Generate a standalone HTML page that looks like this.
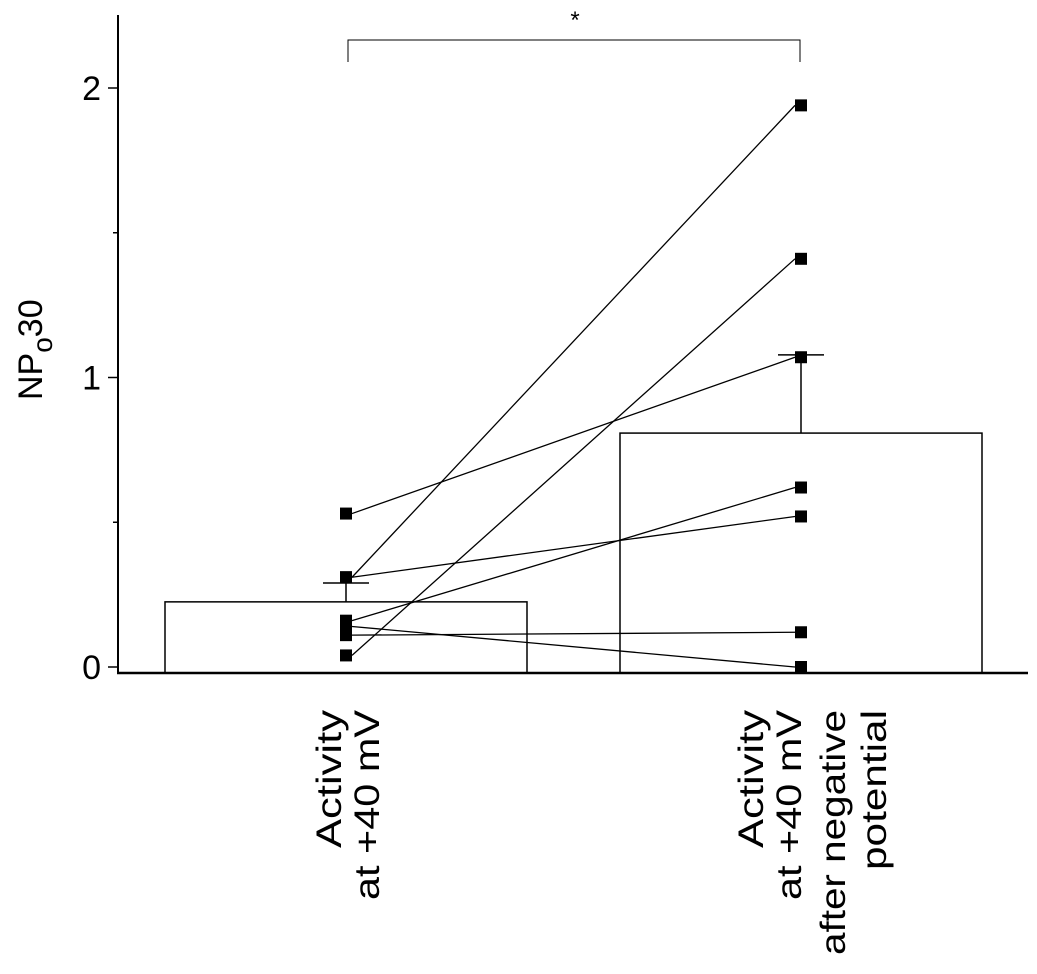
<!DOCTYPE html>
<html><head><meta charset="utf-8"><style>
html,body{margin:0;padding:0;background:#fff;}
svg{display:block;font-family:"Liberation Sans",sans-serif;}
</style></head><body>
<svg id="chart" width="1037" height="974" viewBox="0 0 1037 974" xmlns="http://www.w3.org/2000/svg">
<g id="bars"></g>
<g id="lines"></g>
<g id="marks"></g>
<g id="axes"></g>
<g>
<path d="M348,62 V40 H800 V62" fill="none" stroke="#000" stroke-width="1"/>
<text x="575" y="28" font-size="24" text-anchor="middle">*</text>
</g>
<text transform="translate(42,400) rotate(-90)" font-size="34">NP<tspan font-size="28" dy="10">o</tspan><tspan dy="-10">30</tspan></text>
<g font-size="35" text-anchor="end">
<text transform="translate(341,710) rotate(-90)" textLength="138" lengthAdjust="spacingAndGlyphs">Activity</text>
<text transform="translate(379,710) rotate(-90)" textLength="190" lengthAdjust="spacingAndGlyphs">at +40 mV</text>
</g>
<g font-size="35" text-anchor="end">
<text transform="translate(763,710) rotate(-90)" textLength="138" lengthAdjust="spacingAndGlyphs">Activity</text>
<text transform="translate(801,710) rotate(-90)" textLength="190" lengthAdjust="spacingAndGlyphs">at +40 mV</text>
<text transform="translate(845,710) rotate(-90)" textLength="245" lengthAdjust="spacingAndGlyphs">after negative</text>
<text transform="translate(886,710) rotate(-90)" textLength="160" lengthAdjust="spacingAndGlyphs">potential</text>
</g>
</svg>
<script>
const categories = ["before", "after"];
const barMeans = [0.225, 0.808];
const barErrors = [0.065, 0.27];
const beforeValues = [0.53, 0.31, 0.31, 0.04, 0.16, 0.14, 0.11];
const afterValues = [1.07, 1.94, 0.52, 1.41, 0.62, 0.0, 0.12];
const yTicks = [0, 1, 2];
const yMinorTicks = [0.5, 1.5];

const NS = "http://www.w3.org/2000/svg";
function y(v){ return 667 - v * 289.5; }
const catX = [346, 801];
const barLeft = [165, 620], barW = 362;
function mk(tag, attrs, parent){
  const e = document.createElementNS(NS, tag);
  for (const k in attrs) e.setAttribute(k, attrs[k]);
  parent.appendChild(e);
  return e;
}
const bars = document.getElementById('bars');
categories.forEach((c, i) => {
  const r = mk('rect', {x: barLeft[i], y: y(barMeans[i]), width: barW, height: 673 - y(barMeans[i]), fill: '#fff', stroke: '#000', 'stroke-width': 1.5}, bars);
  
  
  const e1 = mk('line', {x1: catX[i], x2: catX[i], y1: y(barMeans[i]), y2: y(barMeans[i] + barErrors[i]), stroke: '#000', 'stroke-width': 1.5}, bars);
  
  
  const e2 = mk('line', {x1: catX[i] - 23, x2: catX[i] + 23, y1: y(barMeans[i] + barErrors[i]), y2: y(barMeans[i] + barErrors[i]), stroke: '#000', 'stroke-width': 1.5}, bars);
  
  
});
const lines = document.getElementById('lines');
const marks = document.getElementById('marks');
beforeValues.forEach((b, i) => {
  const a = afterValues[i];
  const l = mk('line', {x1: catX[0] + 6, y1: y(b), x2: catX[1] - 6, y2: y(a), stroke: '#000', 'stroke-width': 1.3}, lines);
  
  
  [[catX[0], b], [catX[1], a]].forEach(([x, v], j) => {
    const m = mk('rect', {x: x - 6, y: y(v) - 6, width: 12, height: 12, fill: '#000'}, marks);
    
    
  });
});
const axes = document.getElementById('axes');
const ya = mk('line', {x1: 118, x2: 118, y1: 15, y2: 674, stroke: '#000', 'stroke-width': 2}, axes);


const xa = mk('line', {x1: 117, x2: 1028, y1: 673, y2: 673, stroke: '#000', 'stroke-width': 2.5}, axes);


yTicks.forEach(t => {
  const tk = mk('line', {x1: 108, x2: 118, y1: y(t), y2: y(t), stroke: '#000', 'stroke-width': 1.5}, axes);
  
  
  const tx = mk('text', {x: 101, y: y(t) + 12, 'font-size': 34, 'text-anchor': 'end'}, axes);
  tx.textContent = t;
  
  
});
yMinorTicks.forEach(t => {
  const tk = mk('line', {x1: 113, x2: 118, y1: y(t), y2: y(t), stroke: '#000', 'stroke-width': 1.5}, axes);
  
  
});
</script>
</body></html>
